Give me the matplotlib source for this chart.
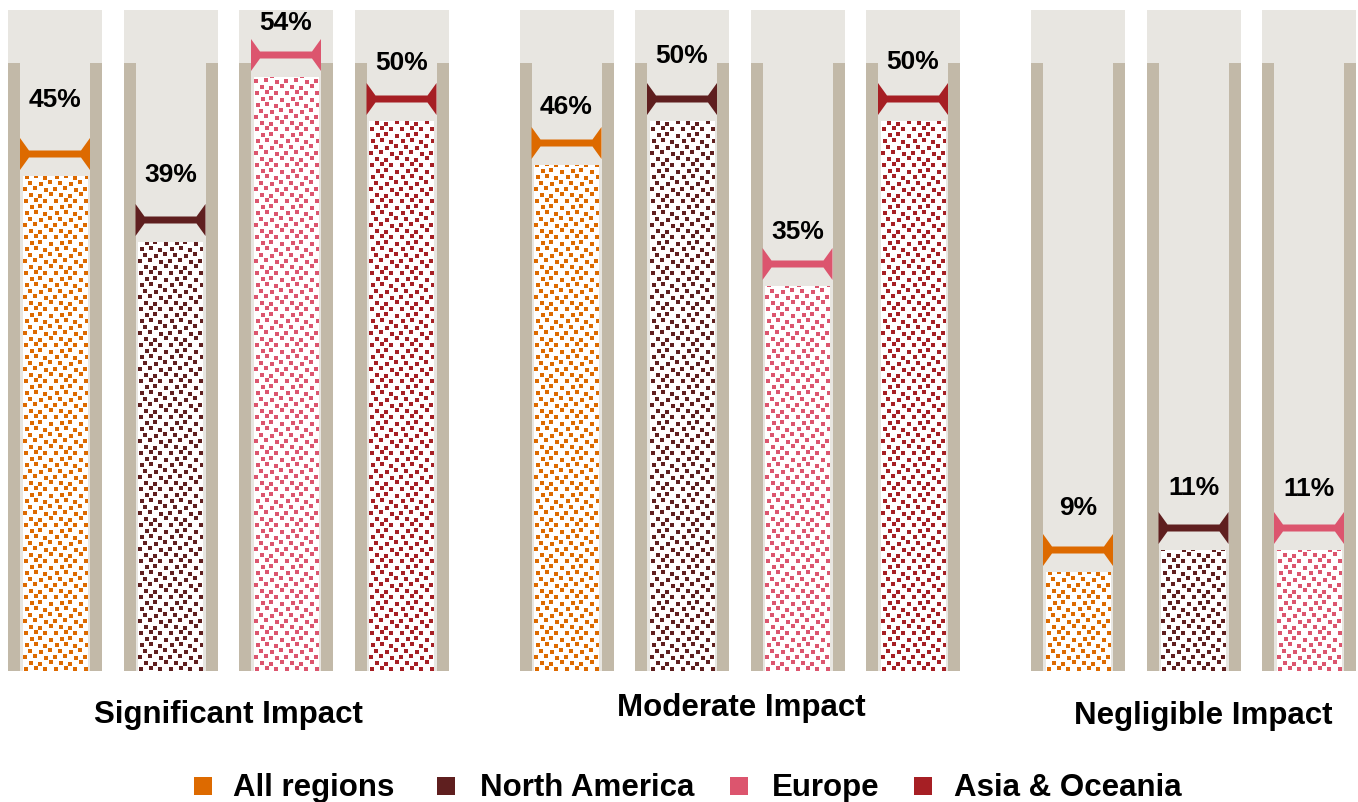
import numpy as np
import matplotlib
matplotlib.use("Agg")
import matplotlib.pyplot as plt
from matplotlib.patches import Rectangle, Polygon

plt.rcParams['font.family'] = ['Liberation Sans', 'DejaVu Sans']

# data
groups = ['Significant Impact', 'Moderate Impact', 'Negligible Impact']
series = ['All regions', 'North America', 'Europe', 'Asia & Oceania']
colors = ['#dd6a00', '#5f1f1f', '#dc556e', '#a61f24']
significant = [45, 39, 54, 50]
moderate = [46, 50, 35, 50]
negligible = [9, 11, 11]
values = [significant, moderate, negligible]

# layout tweaks (label distance above cap, pixels)
label_dy = [[55, 46, 33, 37], [37, 44, 33, 38], [43, 41, 40]]
group_dx = [0, 2, 10]
group_y = [715, 708, 716]

wall_col = '#c2b9a8'
tube_col = '#e8e6e1'

W, H = 1358, 803
PX = 11.0          # pixels per percent
BASE = 672         # baseline, pixels from top

fig = plt.figure(figsize=(W / 100, H / 100), dpi=100)
ax = fig.add_axes([0, 0, 1, 1])
ax.set_xlim(0, W)
ax.set_ylim(-(H - BASE) / PX, BASE / PX)
ax.axis('off')


def ypix(y):
    # pixel row (from top) -> data y
    return (BASE - y) / PX


# confetti tile (30 x 36 px), square corners
TILE = [(0, 1), (1, 11), (0, 20),
        (6, 6), (5, 15), (7, 26),
        (12, 0), (13, 10), (11, 21),
        (18, 5), (17, 16), (19, 25),
        (24, 2), (25, 11), (23, 20),
        (30, 7), (31, 15), (29, 26)]


def pattern(h, w, color):
    rgb = np.array(matplotlib.colors.to_rgb(color))
    img = np.ones((h, w, 3))
    tile = np.zeros((36, 30), dtype=bool)
    for (r, c) in TILE:
        for dr in range(4):
            for dc in range(4):
                tile[(r + dr) % 36, (c + dc) % 30] = True
    reps = np.tile(tile, (h // 36 + 1, w // 30 + 1))[:h, :w]
    img[reps[::-1]] = rgb
    return img


for g, vals in enumerate(values):
    for i, v in enumerate(vals):
        c = 55 + g * 511.5 + i * 115.5
        col = colors[i]
        # tube
        ax.add_patch(Rectangle((c - 47, 0), 94, ypix(11), fc=tube_col, ec='none', zorder=1))
        ax.add_patch(Rectangle((c - 47, 0), 12, ypix(64), fc=wall_col, ec='none', zorder=2))
        ax.add_patch(Rectangle((c + 35, 0), 12, ypix(64), fc=wall_col, ec='none', zorder=2))
        # patterned bar
        hp = int(round(v * PX))
        ax.imshow(pattern(hp, 65, col), extent=[c - 32.5, c + 32.5, 0, v],
                  aspect='auto', interpolation='nearest', zorder=3)
        # cap marker
        yc = v + 22 / PX
        pts = [(-35, 16), (-26, 3.5), (26, 3.5), (35, 16), (35, -16), (26, -3.5), (-26, -3.5), (-35, -16)]
        ax.add_patch(Polygon([(c + dx, yc + dy / PX) for dx, dy in pts],
                             closed=True, fc=col, ec='none', zorder=4))
        ax.text(c, yc + label_dy[g][i] / PX, f'{v}%', ha='center', va='center',
                fontsize=19, fontweight='bold', color='#000000', zorder=5)
    gc = 55 + g * 511.5 + (len(vals) - 1) * 115.5 / 2 + group_dx[g]
    ax.text(gc, ypix(group_y[g]), groups[g], ha='center', va='center',
            fontsize=22.5, fontweight='bold', color='#000000')

# legend
sq_x = [194, 437, 730, 914]
tx_x = [233, 480, 772, 954]
for i, name in enumerate(series):
    ax.add_patch(Rectangle((sq_x[i], ypix(796)), 18, 18 / PX, fc=colors[i], ec='none'))
    ax.text(tx_x[i], ypix(788), name, ha='left', va='center',
            fontsize=22.5, fontweight='bold', color='#000000')

fig.savefig('out.png', dpi=100)
